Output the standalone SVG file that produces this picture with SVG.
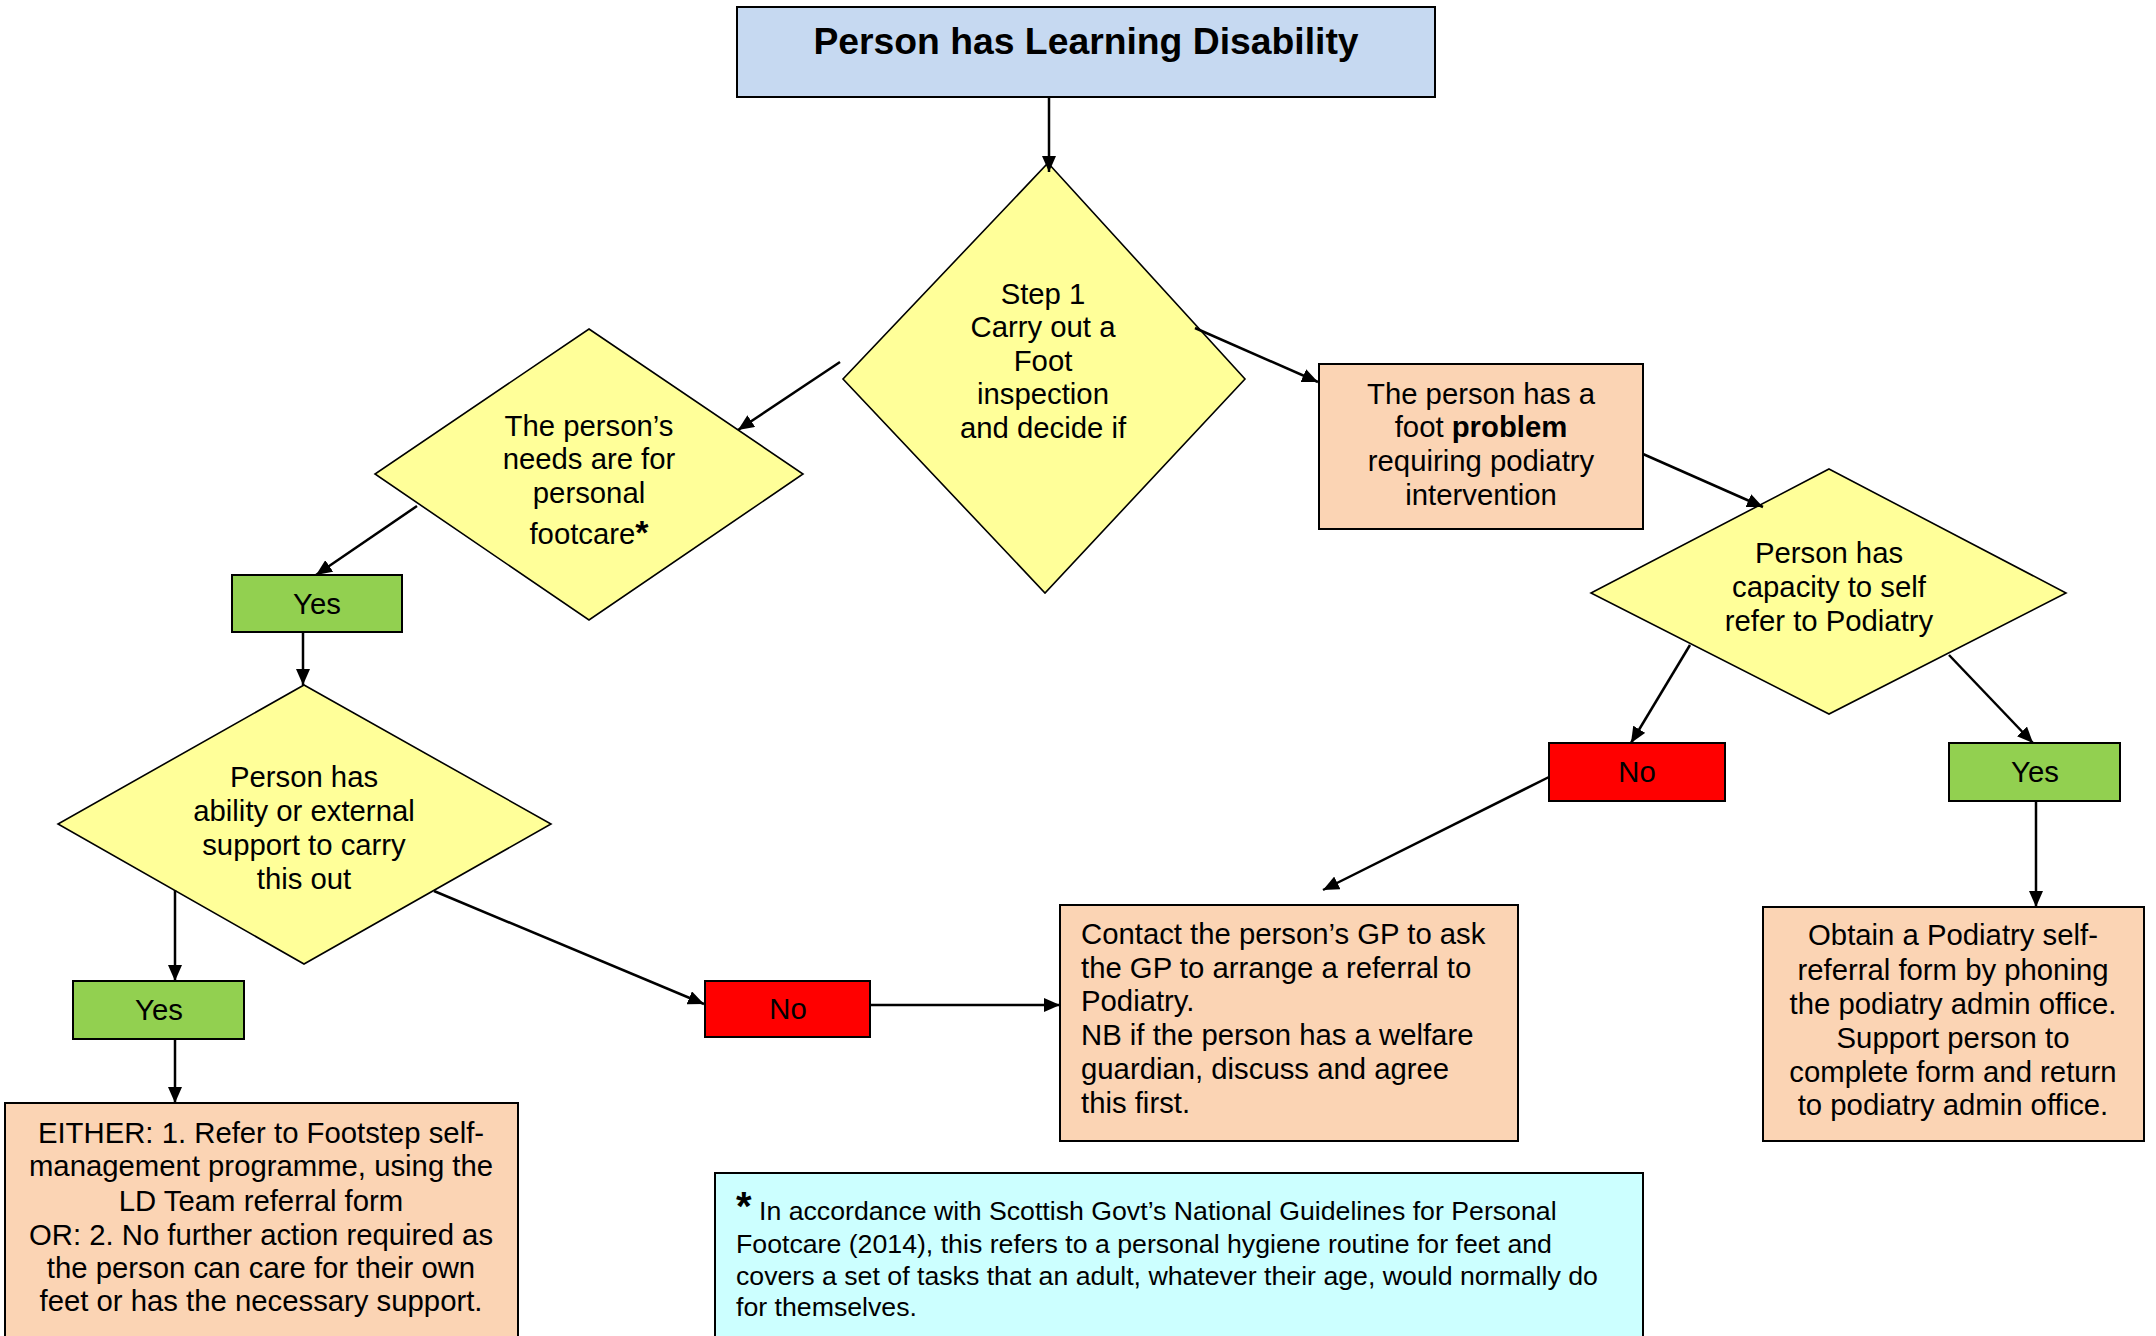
<svg xmlns="http://www.w3.org/2000/svg" width="2156" height="1336" viewBox="0 0 2156 1336">
<defs>
<marker id="arr" markerWidth="16" markerHeight="14" refX="16" refY="7" orient="auto" markerUnits="userSpaceOnUse"><path d="M0,0 L16,7 L0,14 z" fill="#000"/></marker>
<style>
text{font-family:"Liberation Sans",Arial,sans-serif;font-size:29.3px;fill:#000}
.c{text-anchor:middle}
.box{stroke:#000;stroke-width:2}
.dia{fill:#FFFF99;stroke:#000;stroke-width:1.6}
.peach{fill:#FBD4B4}
.green{fill:#92D050}
.red{fill:#FF0000}
.fn{font-size:26.7px}
.conn line{stroke:#000;stroke-width:2.5;marker-end:url(#arr)}
</style>
</defs>
<rect width="2156" height="1336" fill="#fff"/>

<g id="title">
<rect class="box" x="737" y="7" width="698" height="90" fill="#C6D9F1"/>
<text class="c" x="1086" y="54" style="font-size:37.3px;font-weight:bold">Person has Learning Disability</text>
</g>

<g id="step1">
<polygon class="dia" points="1048,163 1245,379 1045,593 843,379"/>
<text class="c" x="1043" y="304">Step 1</text>
<text class="c" x="1043" y="337">Carry out a</text>
<text class="c" x="1043" y="371">Foot</text>
<text class="c" x="1043" y="404">inspection</text>
<text class="c" x="1043" y="438">and decide if</text>
</g>

<g id="personal">
<polygon class="dia" points="589,329 803,474 589,620 375,474"/>
<text class="c" x="589" y="436">The person’s</text>
<text class="c" x="589" y="469">needs are for</text>
<text class="c" x="589" y="503">personal</text>
<text class="c" x="589" y="544">footcare<tspan style="font-size:34px;font-weight:bold">*</tspan></text>
</g>

<g id="problem">
<rect class="box peach" x="1319" y="364" width="324" height="165"/>
<text class="c" x="1481" y="404">The person has a</text>
<text class="c" x="1481" y="437">foot <tspan font-weight="bold">problem</tspan></text>
<text class="c" x="1481" y="471">requiring podiatry</text>
<text class="c" x="1481" y="505">intervention</text>
</g>

<g id="capacity">
<polygon class="dia" points="1829,469 2066,593 1829,714 1591,593"/>
<text class="c" x="1829" y="563">Person has</text>
<text class="c" x="1829" y="597">capacity to self</text>
<text class="c" x="1829" y="631">refer to Podiatry</text>
</g>

<g id="yes1">
<rect class="box green" x="232" y="575" width="170" height="57"/>
<text class="c" x="317" y="614">Yes</text>
</g>

<g id="ability">
<polygon class="dia" points="304,685 551,824 304,964 58,824"/>
<text class="c" x="304" y="787">Person has</text>
<text class="c" x="304" y="821">ability or external</text>
<text class="c" x="304" y="855">support to carry</text>
<text class="c" x="304" y="889">this out</text>
</g>

<g id="no2">
<rect class="box red" x="1549" y="743" width="176" height="58"/>
<text class="c" x="1637" y="782">No</text>
</g>

<g id="yes3">
<rect class="box green" x="1949" y="743" width="171" height="58"/>
<text class="c" x="2035" y="782">Yes</text>
</g>

<g id="yes2">
<rect class="box green" x="73" y="981" width="171" height="58"/>
<text class="c" x="159" y="1020">Yes</text>
</g>

<g id="no1">
<rect class="box red" x="705" y="981" width="165" height="56"/>
<text class="c" x="788" y="1019">No</text>
</g>

<g id="gp">
<rect class="box peach" x="1060" y="905" width="458" height="236"/>
<text x="1081" y="944">Contact the person’s GP to ask</text>
<text x="1081" y="978">the GP to arrange a referral to</text>
<text x="1081" y="1011">Podiatry.</text>
<text x="1081" y="1045">NB if the person has a welfare</text>
<text x="1081" y="1079">guardian, discuss and agree</text>
<text x="1081" y="1113">this first.</text>
</g>

<g id="selfref">
<rect class="box peach" x="1763" y="907" width="381" height="234"/>
<text class="c" x="1953" y="945">Obtain a Podiatry self-</text>
<text class="c" x="1953" y="980">referral form by phoning</text>
<text class="c" x="1953" y="1014">the podiatry admin office.</text>
<text class="c" x="1953" y="1048">Support person to</text>
<text class="c" x="1953" y="1082">complete form and return</text>
<text class="c" x="1953" y="1115">to podiatry admin office.</text>
</g>

<g id="footstep">
<rect class="box peach" x="5" y="1103" width="513" height="260"/>
<text class="c" x="261" y="1143">EITHER: 1. Refer to Footstep self-</text>
<text class="c" x="261" y="1176">management programme, using the</text>
<text class="c" x="261" y="1211">LD Team referral form</text>
<text class="c" x="261" y="1245">OR: 2. No further action required as</text>
<text class="c" x="261" y="1278">the person can care for their own</text>
<text class="c" x="261" y="1311">feet or has the necessary support.</text>
</g>

<g id="footnote">
<rect class="box" x="715" y="1173" width="928" height="200" fill="#CCFFFF"/>
<text class="fn" x="736" y="1220"><tspan style="font-size:40px;font-weight:bold">*</tspan> In accordance with Scottish Govt’s National Guidelines for Personal</text>
<text class="fn" x="736" y="1253">Footcare (2014), this refers to a personal hygiene routine for feet and</text>
<text class="fn" x="736" y="1285">covers a set of tasks that an adult, whatever their age, would normally do</text>
<text class="fn" x="736" y="1316">for themselves.</text>
</g>

<g id="connectors" class="conn">
<line x1="1049" y1="97" x2="1049" y2="172"/>
<line x1="840" y1="362" x2="738" y2="430"/>
<line x1="1195" y1="328" x2="1318" y2="382"/>
<line x1="1643" y1="454" x2="1763" y2="507"/>
<line x1="417" y1="506" x2="316" y2="575"/>
<line x1="303" y1="632" x2="303" y2="685"/>
<line x1="175" y1="890" x2="175" y2="981"/>
<line x1="175" y1="1039" x2="175" y2="1103"/>
<line x1="434" y1="891" x2="704" y2="1004"/>
<line x1="870" y1="1005" x2="1060" y2="1005"/>
<line x1="1690" y1="645" x2="1631" y2="743"/>
<line x1="1949" y1="655" x2="2033" y2="743"/>
<line x1="1549" y1="777" x2="1323" y2="890"/>
<line x1="2036" y1="801" x2="2036" y2="907"/>
</g>
</svg>
